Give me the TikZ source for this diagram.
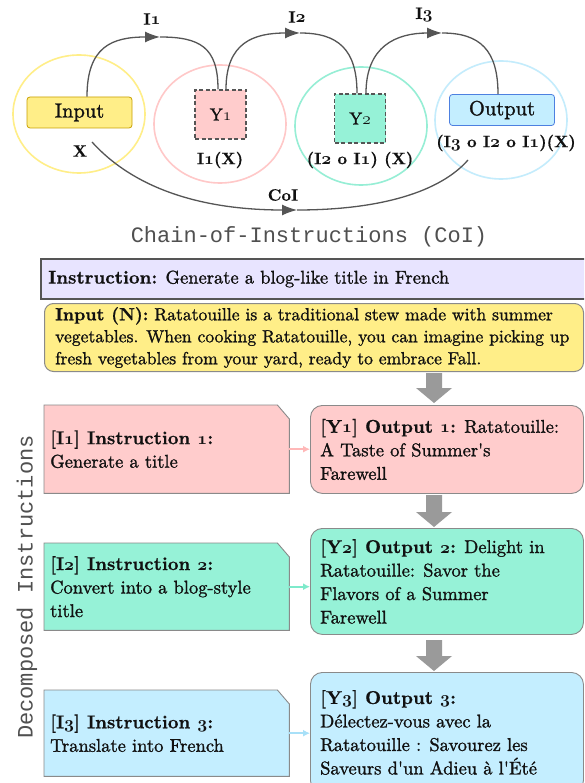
\documentclass[tikz,border=0pt]{standalone}
\usetikzlibrary{arrows.meta,calc,shapes.geometric}
\DeclareFontFamily{TU}{lmten}{}
\DeclareFontShape{TU}{lmten}{m}{n}{<-> "[lmroman10-regular]:mapping=tex-text;embolden=1.2;"}{}
\DeclareFontShape{TU}{lmten}{bx}{n}{<-> "[lmroman10-bold]:mapping=tex-text;embolden=0.6;"}{}
\DeclareFontShape{TU}{lmten}{b}{n}{<-> ssub * lmten/bx/n}{}
\renewcommand\rmdefault{lmten}
\font\cmonoA="Liberation Mono" at 22pt
\definecolor{cyel}{HTML}{FFEE88}
\definecolor{cyelb}{HTML}{C9A100}
\definecolor{cpink}{HTML}{FFCCCC}
\definecolor{cpinkE}{HTML}{FFC8C8}
\definecolor{cpinkA}{HTML}{FFB8B8}
\definecolor{cgreen}{HTML}{96F2D7}
\definecolor{cgreenE}{HTML}{96EED5}
\definecolor{cgreenA}{HTML}{7EEACB}
\definecolor{cblue}{HTML}{C4EEFF}
\definecolor{cblueE}{HTML}{C4ECFC}
\definecolor{cblueA}{HTML}{A8E0F8}
\definecolor{cbluee}{HTML}{4D80E0}
\definecolor{clav}{HTML}{E8E4FF}
\definecolor{cdark}{HTML}{555555}
\definecolor{cbord}{HTML}{8A8A8A}
\definecolor{carr}{HTML}{9A9A9A}
\definecolor{ctext}{HTML}{111111}
\definecolor{cmonoC}{HTML}{505050}
\makeatletter
\newcommand\osn[1]{{\fontencoding{OML}\fontfamily{cmm}\fontshape{it}\if b\expandafter\@car\f@series\@nil\fontseries{b}\else\fontseries{m}\fi\selectfont #1}}
\makeatother
\newcommand\bodyf{\fontsize{18.5pt}{23.5pt}\selectfont}
\newcommand\inNf{\fontsize{17.6pt}{22pt}\selectfont}
\newcommand\lblf{\fontsize{16.5pt}{20pt}\selectfont\bfseries}
\newcommand\iof{\fontsize{20.5pt}{24pt}\selectfont}
\newcommand\yf{\fontsize{17.5pt}{20pt}\selectfont}
\newcommand\barrow[3]{\fill[carr] (#1-8,#2) -- (#1+8,#2) -- (#1+8,#3-15) -- (#1+18,#3-15) -- (#1,#3) -- (#1-18,#3-15) -- (#1-8,#3-15) -- cycle;}
\tikzset{
  ell/.style={ellipse, minimum width=132pt, minimum height=118pt, line width=1.6pt, inner sep=0pt},
  iobox/.style={rectangle, rounded corners=3pt, minimum width=105pt, minimum height=31pt, line width=0.8pt, font=\iof, inner sep=0pt},
  ybox/.style={rectangle, draw=cdark, dash pattern=on 4pt off 2.5pt, line width=1.4pt, minimum width=51pt, minimum height=49pt, font=\yf, inner sep=0pt},
  lbl/.style={font=\lblf, inner sep=0pt},
  conn/.style={draw=cdark, line width=1.3pt},
  tipA/.style={-{Latex[length=15pt,width=11pt]}},
  emptybox/.style={anchor=north west, inner sep=0pt},
  ibox/.style={draw=cbord, line width=0.9pt},
  obox/.style={emptybox, rectangle, rounded corners=12pt, draw=cbord, line width=0.9pt, minimum width=273pt},
  txt/.style={anchor=west, align=left, font=\bodyf, inner sep=0pt},
  small/.style={-{Latex[length=7pt,width=7pt]}, line width=1.6pt}
}
\begin{document}
\begin{tikzpicture}[x=1pt,y=-1pt, every node/.style={text=ctext}]
\useasboundingbox (0,0) rectangle (584,783);
\clip (0,0) rectangle (584,783);
\fill[white] (0,0) rectangle (584,783);
% ---------- top diagram ----------
\node[ell, draw=cyel] (e0) at (79,114) {};
\node[ell, draw=cpinkE] (e1) at (220,124) {};
\node[ell, draw=cgreenE] (e2) at (361,126) {};
\node[ell, draw=cblueE] (e3) at (501,120) {};
\node[iobox, fill=cyel, draw=cyelb] (inp) at (79.5,112.5) {Input};
\node[iobox, fill=cblue, draw=cbluee] (out) at (502,110) {Output};
\node[ybox, fill=cpink] (y1) at (220.5,114.5) {Y\osn{1}};
\node[ybox, fill=cgreen] (y2) at (360,118.5) {Y\osn{2}};
\node[lbl] (lx) at (80,151) {X};
\node[lbl] (l1x) at (220,160) {I\osn{1}(X)};
\node[lbl] (l21x) at (360,160) {(I\osn{2} o I\osn{1}) (X)};
\node[lbl] (l321x) at (506,143) {(I\osn{3} o I\osn{2} o I\osn{1})(X)};
\node[lbl] (li1) at (152,19) {I\osn{1}};
\node[lbl] (li2) at (297,17) {I\osn{2}};
\node[lbl] (li3) at (424,15) {I\osn{3}};
\node[lbl] (lcoi) at (283,195) {CoI};
\coordinate (t1) at (160,37);
\coordinate (t2) at (300,33);
\coordinate (t3) at (442,33);
\draw[conn, tipA] ([xshift=7.5pt]inp.north) .. controls +(0,-50) and +(-48,0) .. (t1);
\draw[conn] (t1) .. controls +(40,0) and +(0,-42) .. ([xshift=-2.5pt]y1.north);
\draw[conn, tipA] ([xshift=5.5pt]y1.north) .. controls +(0,-47) and +(-46,0) .. (t2);
\draw[conn] (t2) .. controls +(38,0) and +(0,-44) .. ([xshift=-3pt]y2.north);
\draw[conn, tipA] ([xshift=6pt]y2.north) .. controls +(0,-47) and +(-46,0) .. (t3);
\draw[conn] (t3) .. controls +(38,0) and +(0,-44) .. ([xshift=-4pt]out.north);
\coordinate (cs) at (92,142);
\coordinate (ct) at (297,210);
\coordinate (ce) at (468,160);
\draw[conn, tipA] (cs) .. controls (140,195) and (215,210) .. (ct);
\draw[conn] (ct) .. controls (380,210) and (440,192) .. (ce);
\node[font=\cmonoA, text=cmonoC, inner sep=0pt] (cap) at (309,237) {Chain-of-Instructions (CoI)};
% ---------- bottom ----------
\node[emptybox, rectangle, draw=cdark, line width=2pt, fill=clav, minimum width=560pt, minimum height=40pt] (ins) at (40,258) {};
\node[txt] (inst) at ([xshift=8pt]ins.west) {\textbf{Instruction:} Generate a blog-like title in French};
\node[emptybox, rectangle, rounded corners=9pt, draw=cbord, line width=1pt, fill=cyel, minimum width=539pt, minimum height=68pt] (inN) at (44,303) {};
\node[txt, font=\inNf] (inNt) at ([xshift=11pt]inN.west) {\textbf{Input (N):} Ratatouille is a traditional stew made with summer\\vegetables. When cooking Ratatouille, you can imagine picking up\\fresh vegetables from your yard, ready to embrace Fall.};
\barrow{434}{373}{403}
\barrow{434}{495}{527}
\barrow{434}{640}{671}
% row 1
\node[emptybox, minimum width=245pt, minimum height=88pt] (i1) at (44,405) {};
\filldraw[ibox, fill=cpink] (i1.north west) -- ([xshift=-12pt]i1.north east) -- ([yshift=-14pt]i1.north east) -- (i1.south east) -- (i1.south west) -- cycle;
\node[txt] (i1t) at ([xshift=6pt]i1.west) {\textbf{[I\osn{1}] Instruction \osn{1}:}\\Generate a title};
\node[obox, fill=cpink, minimum height=88pt] (o1) at (310,405) {};
\node[txt] (o1t) at ([xshift=10pt]o1.west) {\textbf{[Y\osn{1}] Output \osn{1}:} Ratatouille:\\A Taste of Summer\textquotesingle s\\Farewell};
\draw[small, cpinkA] (i1.east) -- (i1.east -| o1.west);
% row 2
\node[emptybox, minimum width=245pt, minimum height=87pt] (i2) at (44,543) {};
\filldraw[ibox, fill=cgreen] (i2.north west) -- ([xshift=-12pt]i2.north east) -- ([yshift=-14pt]i2.north east) -- (i2.south east) -- (i2.south west) -- cycle;
\node[txt] (i2t) at ([xshift=6pt]i2.west) {\textbf{[I\osn{2}] Instruction \osn{2}:}\\Convert into a blog-style\\title};
\node[obox, fill=cgreen, minimum height=106pt] (o2) at (310,528) {};
\node[txt] (o2t) at ([xshift=10pt]o2.west) {\textbf{[Y\osn{2}] Output \osn{2}:} Delight in\\Ratatouille: Savor the\\Flavors of a Summer\\Farewell};
\draw[small, cgreenA] (i2.east) -- (i2.east -| o2.west);
% row 3
\node[emptybox, minimum width=245pt, minimum height=86pt] (i3) at (44,690) {};
\filldraw[ibox, fill=cblue] (i3.north west) -- ([xshift=-12pt]i3.north east) -- ([yshift=-14pt]i3.north east) -- (i3.south east) -- (i3.south west) -- cycle;
\node[txt] (i3t) at ([xshift=6pt]i3.west) {\textbf{[I\osn{3}] Instruction \osn{3}:}\\Translate into French};
\node[obox, fill=cblue, minimum height=120pt] (o3) at (310,672) {};
\node[txt] (o3t) at ([xshift=10pt]o3.west) {\textbf{[Y\osn{3}] Output \osn{3}:}\\Délectez-vous avec la\\Ratatouille : Savourez les\\Saveurs d\textquotesingle un Adieu à l\textquotesingle Été};
\draw[small, cblueA] (i3.east) -- (i3.east -| o3.west);
\node[font=\cmonoA, text=cmonoC, rotate=90, inner sep=0pt] (dec) at (27,587) {Decomposed Instructions};
\end{tikzpicture}
\end{document}
